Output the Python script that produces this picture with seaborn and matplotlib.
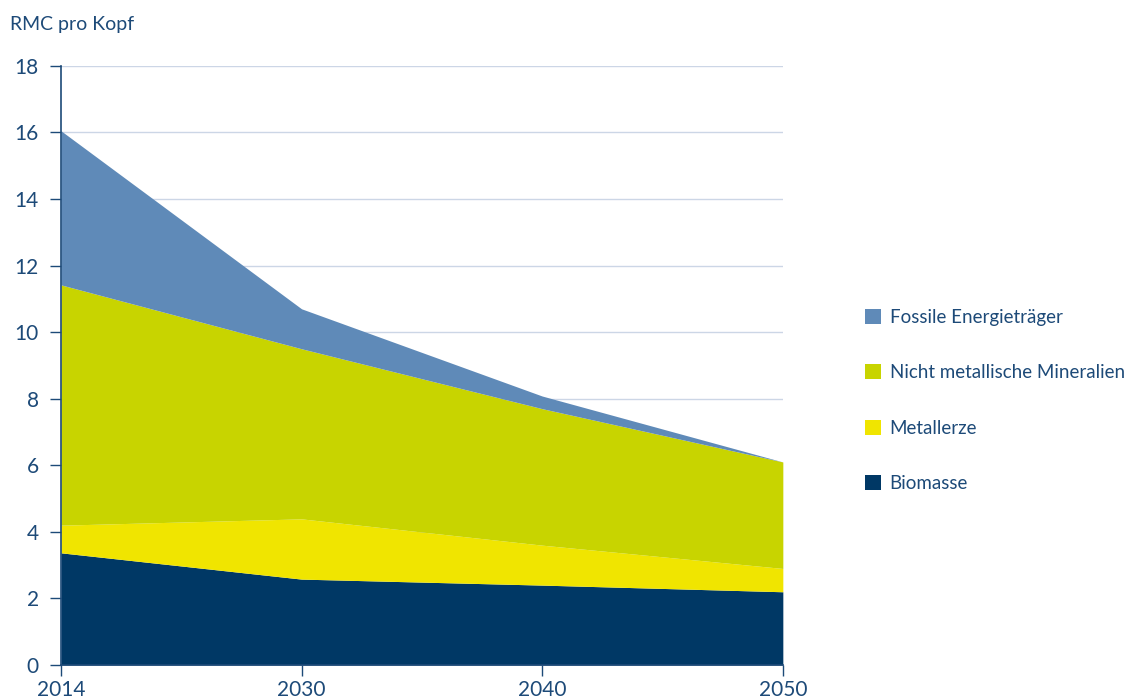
import numpy as np
import pandas as pd
import matplotlib
matplotlib.use("Agg")
import matplotlib.pyplot as plt
import seaborn as sns
from matplotlib.patches import Patch

# Data (RMC per capita, tonnes)
years = ['2014', '2030', '2040', '2050']
biomasse = [3.37, 2.58, 2.40, 2.20]
metallerze = [0.83, 1.81, 1.20, 0.70]
mineralien = [7.22, 5.11, 4.10, 3.20]
fossile = [4.63, 1.20, 0.38, 0.0]

series_names = ['Biomasse', 'Metallerze', 'Nicht metallische Mineralien', 'Fossile Energieträger']
colors = ['#003865', '#f0e500', '#c8d400', '#5f8ab8']
text_color = '#1d4a78'
grid_color = '#ccd6e6'

df = pd.DataFrame({
    'Biomasse': biomasse,
    'Metallerze': metallerze,
    'Nicht metallische Mineralien': mineralien,
    'Fossile Energieträger': fossile,
}, index=years)

sns.set_theme(style='ticks')
plt.rcParams['font.family'] = ['Lato', 'DejaVu Sans']

fig = plt.figure(figsize=(11.28, 7.0), dpi=100)
ax = fig.add_axes([0.054, 0.05, 0.64, 0.856])

x = np.arange(len(years))
ax.stackplot(x, [df[c].values for c in series_names], colors=colors, linewidth=0)

ax.set_xlim(0, len(years) - 1)
ax.set_ylim(0, 18)
ax.set_yticks(np.arange(0, 19, 2))
ax.set_xticks(x)
ax.set_xticklabels(years)

ax.yaxis.grid(True, color=grid_color, linewidth=1)
ax.set_axisbelow(True)
for side in ['top', 'right']:
    ax.spines[side].set_visible(False)
for side in ['left', 'bottom']:
    ax.spines[side].set_color(text_color)
    ax.spines[side].set_linewidth(1.2)

ax.tick_params(axis='both', colors=text_color, labelsize=15, length=8, width=1,
               direction='out', bottom=True, left=True)
ax.tick_params(axis='y', pad=8)
ax.tick_params(axis='x', pad=3)

fig.text(0.009, 0.965, 'RMC pro Kopf', color=text_color, fontsize=14, va='center', ha='left')

handles = [Patch(facecolor=colors[i], edgecolor='none') for i in [3, 2, 1, 0]]
labels = [series_names[i] for i in [3, 2, 1, 0]]
leg = fig.legend(handles, labels, loc='center left', bbox_to_anchor=(0.767, 0.428),
                 frameon=False, fontsize=13.5, handlelength=0.85, handleheight=0.85,
                 handletextpad=0.45, labelspacing=2.05, borderpad=0, borderaxespad=0)
for t in leg.get_texts():
    t.set_color(text_color)

fig.savefig('out.png', dpi=100)
